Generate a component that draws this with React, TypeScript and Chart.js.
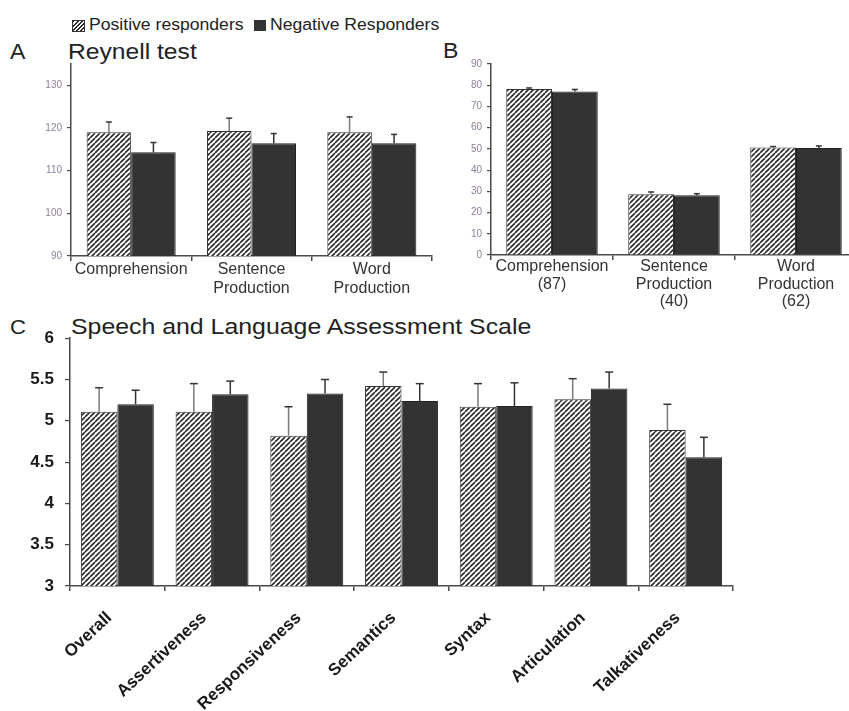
import React, { useEffect, useRef } from "react";
import { Chart, registerables } from "chart.js";
Chart.register(...registerables);

// ---------- DATA ----------
const seriesNames = ["Positive responders", "Negative Responders"];

const reynellCategories = [["Comprehension"], ["Sentence", "Production"], ["Word", "Production"]];
const reynellPositive = [119.0, 119.3, 119.0];
const reynellPositiveErr = [2.4, 3.0, 3.6];
const reynellNegative = [114.3, 116.4, 116.4];
const reynellNegativeErr = [2.3, 2.3, 2.1];
const reynellTicks = [90, 100, 110, 120, 130];

const rawCategories = [["Comprehension", "(87)"], ["Sentence", "Production", "(40)"], ["Word", "Production", "(62)"]];
const rawPositive = [78.2, 28.6, 50.6];
const rawPositiveErr = [0.5, 1.1, 0.5];
const rawNegative = [77.1, 28.2, 50.4];
const rawNegativeErr = [0.9, 0.7, 1.0];
const rawTicks = [0, 10, 20, 30, 40, 50, 60, 70, 80, 90];

const salasCategories = ["Overall", "Assertiveness", "Responsiveness", "Semantics", "Syntax", "Articulation", "Talkativeness"];
const salasPositive = [5.11, 5.11, 4.82, 5.42, 5.17, 5.26, 4.89];
const salasPositiveErr = [0.29, 0.34, 0.35, 0.17, 0.28, 0.25, 0.31];
const salasNegative = [5.2, 5.32, 5.33, 5.24, 5.18, 5.39, 4.56];
const salasNegativeErr = [0.17, 0.16, 0.17, 0.21, 0.28, 0.2, 0.24];
const salasTicks = [3, 3.5, 4, 4.5, 5, 5.5, 6];

// ---------- HELPERS ----------
const FONT = "Arial, 'Liberation Sans', Helvetica, sans-serif";
const AXIS = "#4a4a4a";

function makeHatch(): CanvasPattern | string {
  const s = 5;
  const c = document.createElement("canvas");
  c.width = s;
  c.height = s;
  const g = c.getContext("2d");
  if (!g) return "#999";
  g.fillStyle = "#ffffff";
  g.fillRect(0, 0, s, s);
  g.strokeStyle = "#2b2b2b";
  g.lineWidth = 1.6;
  g.beginPath();
  for (const k of [-s, 0, s]) {
    g.moveTo(k, s);
    g.lineTo(k + s, 0);
  }
  g.stroke();
  const p = g.createPattern(c, "repeat");
  return p || "#999";
}

const errorBarPlugin = {
  id: "errorBars",
  afterDatasetsDraw(chart: any, _args: any, opts: any) {
    const { ctx } = chart;
    const y = chart.scales.y;
    chart.data.datasets.forEach((ds: any, i: number) => {
      const meta = chart.getDatasetMeta(i);
      meta.data.forEach((el: any, j: number) => {
        const v = ds.data[j];
        const e = opts.errors[i][j];
        const yBase = y.getPixelForValue(v);
        const yTop = y.getPixelForValue(v + e);
        ctx.save();
        ctx.lineWidth = 1.5;
        ctx.strokeStyle = opts.lineColors[i];
        ctx.beginPath();
        ctx.moveTo(el.x, yBase);
        ctx.lineTo(el.x, yTop);
        ctx.stroke();
        ctx.strokeStyle = opts.capColor;
        ctx.beginPath();
        ctx.moveTo(el.x - opts.cap, yTop);
        ctx.lineTo(el.x + opts.cap, yTop);
        ctx.stroke();
        ctx.restore();
      });
    });
  },
};

type PanelProps = {
  left: number;
  top: number;
  width: number;
  height: number;
  labels: any[];
  pos: number[];
  neg: number[];
  posErr: number[];
  negErr: number[];
  min: number;
  max: number;
  ticks: number[];
  yWidth: number;
  xHeight: number;
  padding: { top: number; right: number; left: number; bottom: number };
  catPct: number;
  yFont: any;
  yColor: string;
  xFont: any;
  xColor: string;
  rotate: number;
  yTickLen: number;
  yPad: number;
  xPad: number;
  xOffset: number;
  cap: number;
};

function Panel(p: PanelProps) {
  const ref = useRef<HTMLCanvasElement | null>(null);
  useEffect(() => {
    if (!ref.current) return;
    const hatch = makeHatch();
    const chart = new Chart(ref.current, {
      type: "bar",
      data: {
        labels: p.labels,
        datasets: [
          {
            label: seriesNames[0],
            data: p.pos,
            backgroundColor: hatch as any,
            borderColor: "#333333",
            borderWidth: 1,
            barPercentage: 1,
            categoryPercentage: p.catPct,
          },
          {
            label: seriesNames[1],
            data: p.neg,
            backgroundColor: "#333333",
            borderColor: "#222222",
            borderWidth: 1,
            barPercentage: 1,
            categoryPercentage: p.catPct,
          },
        ],
      },
      options: {
        responsive: false,
        animation: false,
        events: [],
        layout: { padding: p.padding },
        plugins: {
          legend: { display: false },
          tooltip: { enabled: false },
          title: { display: false },
          errorBars: {
            errors: [p.posErr, p.negErr],
            lineColors: ["#7a7a7a", "#333333"],
            capColor: "#333333",
            cap: p.cap,
          },
        } as any,
        scales: {
          x: {
            type: "category",
            border: { display: true, color: AXIS, width: 1.5 },
            grid: {
              display: true,
              offset: true,
              drawOnChartArea: false,
              drawTicks: true,
              tickLength: 5,
              color: AXIS,
              lineWidth: 1.5,
            },
            ticks: {
              color: p.xColor,
              font: p.xFont,
              padding: p.xPad,
              autoSkip: false,
              maxRotation: p.rotate,
              minRotation: p.rotate,
              labelOffset: p.xOffset,
            },
            afterFit: (s: any) => {
              s.height = p.xHeight;
            },
          },
          y: {
            type: "linear",
            min: p.min,
            max: p.max,
            border: { display: true, color: AXIS, width: 1.5 },
            grid: {
              display: true,
              drawOnChartArea: false,
              drawTicks: true,
              tickLength: p.yTickLen,
              color: AXIS,
              lineWidth: 1.2,
            },
            ticks: {
              color: p.yColor,
              font: p.yFont,
              padding: p.yPad,
              callback: (v: any) => String(v),
            },
            afterBuildTicks: (s: any) => {
              s.ticks = p.ticks.map((v) => ({ value: v }));
            },
            afterFit: (s: any) => {
              s.width = p.yWidth;
            },
          },
        },
      },
      plugins: [errorBarPlugin as any],
    });
    return () => chart.destroy();
  }, []);
  return (
    <canvas
      ref={ref}
      width={p.width}
      height={p.height}
      style={{ position: "absolute", left: p.left, top: p.top, width: p.width, height: p.height }}
    />
  );
}

const textStyle = (left: number, top: number, size: number, sx = 1) => ({
  position: "absolute" as const,
  left,
  top,
  fontSize: size,
  lineHeight: `${size}px`,
  fontFamily: FONT,
  color: "#222",
  whiteSpace: "nowrap" as const,
  transform: `scaleX(${sx})`,
  transformOrigin: "left top",
});

export default function App() {
  return (
    <div
      style={{
        position: "fixed",
        left: 0,
        top: 0,
        width: 849,
        height: 711,
        overflow: "hidden",
        background: "#ffffff",
        fontFamily: FONT,
      }}
    >
      {/* legend */}
      <div
        style={{
          position: "absolute",
          left: 72,
          top: 20,
          width: 11,
          height: 10,
          border: "1px solid #333",
          background: "repeating-linear-gradient(135deg, #2b2b2b 0 1.3px, #ffffff 1.3px 3px)",
        }}
      />
      <div style={textStyle(89, 17, 16, 1.1)}>{seriesNames[0]}</div>
      <div
        style={{ position: "absolute", left: 254, top: 20, width: 12, height: 11, background: "#333333" }}
      />
      <div style={textStyle(270, 17, 16, 1.1)}>{seriesNames[1]}</div>

      {/* panel letters & titles */}
      <div style={textStyle(10, 41, 22, 1.05)}>A</div>
      <div style={textStyle(68, 41, 22, 1.12)}>Reynell test</div>
      <div style={textStyle(443, 40, 22, 1.05)}>B</div>
      <div style={textStyle(10, 316, 21, 1.05)}>C</div>
      <div style={textStyle(71, 316, 22, 1.13)}>Speech and Language Assessment Scale</div>

      <Panel
        left={0}
        top={53}
        width={440}
        height={243}
        labels={reynellCategories}
        pos={reynellPositive}
        neg={reynellNegative}
        posErr={reynellPositiveErr}
        negErr={reynellNegativeErr}
        min={90}
        max={135}
        ticks={reynellTicks}
        yWidth={71}
        xHeight={40}
        padding={{ top: 9, right: 8, left: 0, bottom: 0 }}
        catPct={0.74}
        yFont={{ family: FONT, size: 10 }}
        yColor="#8c7f99"
        xFont={{ family: FONT, size: 16 }}
        xColor="#333"
        rotate={0}
        yTickLen={4}
        yPad={5}
        xPad={-1}
        xOffset={0}
        cap={3}
      />
      <Panel
        left={440}
        top={53}
        width={430}
        height={262}
        labels={rawCategories}
        pos={rawPositive}
        neg={rawNegative}
        posErr={rawPositiveErr}
        negErr={rawNegativeErr}
        min={0}
        max={90}
        ticks={rawTicks}
        yWidth={51}
        xHeight={60}
        padding={{ top: 9, right: 13, left: 0, bottom: 0 }}
        catPct={0.75}
        yFont={{ family: FONT, size: 10 }}
        yColor="#8c7f99"
        xFont={{ family: FONT, size: 16, lineHeight: 1.1 }}
        xColor="#333"
        rotate={0}
        yTickLen={4}
        yPad={5}
        xPad={-2}
        xOffset={0}
        cap={3}
      />
      <Panel
        left={0}
        top={317}
        width={760}
        height={394}
        labels={salasCategories}
        pos={salasPositive}
        neg={salasNegative}
        posErr={salasPositiveErr}
        negErr={salasNegativeErr}
        min={3}
        max={6}
        ticks={salasTicks}
        yWidth={70}
        xHeight={125}
        padding={{ top: 12, right: 27, left: 0, bottom: 0 }}
        catPct={0.77}
        yFont={{ family: FONT, size: 17, weight: "bold" }}
        yColor="#1a1a1a"
        xFont={{ family: FONT, size: 17, weight: "bold" }}
        xColor="#1a1a1a"
        rotate={43}
        yTickLen={5}
        yPad={11}
        xPad={17}
        xOffset={-8}
        cap={4}
      />
    </div>
  );
}
